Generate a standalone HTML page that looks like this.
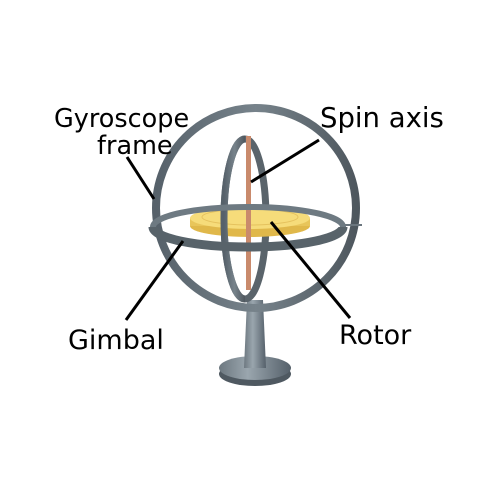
<!DOCTYPE html>
<html><head><meta charset="utf-8"><style>
html,body{margin:0;padding:0;background:#fff;}
svg{display:block;}
text{font-family:"DejaVu Sans","Liberation Sans",sans-serif;font-size:25.5px;fill:#000;}
</style></head><body>
<svg width="500" height="500" viewBox="0 0 500 500">
<defs>
<linearGradient id="metal" x1="0" y1="0" x2="1" y2="0">
<stop offset="0" stop-color="#56616a"/><stop offset="0.5" stop-color="#77838b"/><stop offset="1" stop-color="#4e575e"/>
</linearGradient>
<linearGradient id="stem" x1="0" y1="0" x2="1" y2="0">
<stop offset="0" stop-color="#6d7880"/><stop offset="0.4" stop-color="#9aa6ae"/><stop offset="1" stop-color="#55606a"/>
</linearGradient>
</defs>
<g>
<ellipse cx="255" cy="374" rx="36" ry="12" fill="#4f5961"/>
<ellipse cx="255" cy="368" rx="36" ry="12" fill="url(#stem)"/>
<path d="M247 300 L263 300 L266 368 L244 368 Z" fill="url(#stem)"/>
</g>
<circle cx="256" cy="208" r="100" fill="none" stroke="url(#metal)" stroke-width="8"/>
<line x1="342" y1="225" x2="362" y2="225" stroke="#6b767e" stroke-width="2"/>
<ellipse cx="245" cy="219" rx="21" ry="80" fill="none" stroke="#5a646b" stroke-width="7"/>
<g>
<ellipse cx="250" cy="226" rx="60" ry="11" fill="#e0b84a"/>
<rect x="190" y="218" width="120" height="8" fill="#e8c55a"/>
<ellipse cx="250" cy="218" rx="60" ry="11" fill="#f6dc7a"/>
<ellipse cx="250" cy="217" rx="48" ry="8" fill="none" stroke="#e5c25e" stroke-width="1"/>
</g>
<rect x="246" y="136" width="5" height="154" fill="#c98a6c"/>
<path d="M245 139 A21 80 0 0 0 245 299" fill="none" stroke="url(#metal)" stroke-width="7"/>
<g>
<path d="M153 227 A95 20 0 0 1 343 227" fill="none" stroke="#6e7a82" stroke-width="6"/>
<path d="M153 227 A95 20 0 0 0 343 227" fill="none" stroke="#58636a" stroke-width="9"/>
</g>
<g stroke="#000" stroke-width="3" fill="none">
<line x1="127" y1="157" x2="154" y2="199"/>
<line x1="319" y1="140" x2="251" y2="182"/>
<line x1="126" y1="320" x2="183" y2="241"/>
<line x1="350" y1="318" x2="271" y2="222"/>
</g>
<text x="54" y="127">Gyroscope</text>
<text x="97" y="154">frame</text>
<text x="320" y="127" style="font-size:27.5px">Spin axis</text>
<text x="68" y="349" style="font-size:27px">Gimbal</text>
<text x="339" y="344" style="font-size:27px">Rotor</text>
</svg>
</body></html>
